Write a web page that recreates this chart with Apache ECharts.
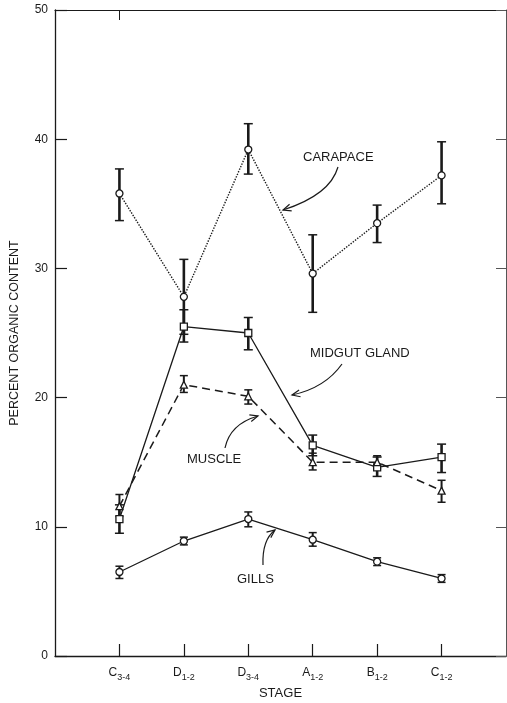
<!DOCTYPE html>
<html><head><meta charset="utf-8">
<script src="https://cdn.jsdelivr.net/npm/echarts@6/dist/echarts.min.js"></script>
<style>html,body{margin:0;padding:0;background:#fff}#c{width:507px;height:703px}</style>
</head><body><div id="c"></div>
<script>
const stageMain = ['C', 'D', 'D', 'A', 'B', 'C'];
const stageSub = ['3-4', '1-2', '3-4', '1-2', '1-2', '1-2'];
const yTicks = [0, 10, 20, 30, 40, 50];

const carapace = [35.8, 27.8, 39.2, 29.6, 33.5, 37.2];
const carapaceLow = [33.7, 24.9, 37.3, 26.6, 32.0, 35.0];
const carapaceHigh = [37.7, 30.7, 41.2, 32.6, 34.9, 39.8];

const midgut = [10.6, 25.5, 25.0, 16.3, 14.6, 15.4];
const midgutLow = [9.5, 24.3, 23.7, 15.5, 13.9, 14.2];
const midgutHigh = [11.7, 26.8, 26.2, 17.1, 15.4, 16.4];

const muscle = [11.6, 21.0, 20.1, 15.0, 15.0, 12.8];
const muscleLow = [10.8, 20.4, 19.5, 14.4, 14.5, 11.9];
const muscleHigh = [12.5, 21.7, 20.6, 15.7, 15.5, 13.6];

const gills = [6.5, 8.9, 10.6, 9.0, 7.3, 6.0];
const gillsLow = [6.0, 8.6, 10.0, 8.5, 7.0, 5.7];
const gillsHigh = [6.95, 9.2, 11.15, 9.55, 7.6, 6.3];

const FONT = 'Liberation Sans';
const INK = '#1a1a1a';

function pts(vals) { return vals.map((v, i) => [i + 1, v]); }
function bars(lo, hi) { return lo.map((v, i) => [i + 1, v, hi[i]]); }

function errSeries(lo, hi, w, capW) {
  return {
    type: 'custom', z: 3,
    data: bars(lo, hi),
    renderItem: function (params, api) {
      const a = api.coord([api.value(0), api.value(1)]);
      const b = api.coord([api.value(0), api.value(2)]);
      const st = { stroke: INK, lineWidth: w };
      return { type: 'group', children: [
        { type: 'line', shape: { x1: a[0], y1: a[1], x2: b[0], y2: b[1] }, style: st },
        { type: 'line', shape: { x1: a[0] - capW, y1: a[1], x2: a[0] + capW, y2: a[1] }, style: { stroke: INK, lineWidth: 1.5 } },
        { type: 'line', shape: { x1: b[0] - capW, y1: b[1], x2: b[0] + capW, y2: b[1] }, style: { stroke: INK, lineWidth: 1.5 } }
      ]};
    }
  };
}

function lineSeries(vals, type, sym, size, width) {
  return {
    type: 'line', z: 4, data: pts(vals), symbol: sym, symbolSize: size,
    lineStyle: { color: INK, width: width, type: type },
    itemStyle: { color: '#fff', borderColor: INK, borderWidth: 1.3 },
    animation: false
  };
}

function arrow(x0, y0, cx, cy, x1, y1) {
  const dx = x1 - cx, dy = y1 - cy, L = Math.hypot(dx, dy);
  const ux = dx / L, uy = dy / L, hl = 8, hw = 3.5;
  const bx = x1 - ux * hl, by = y1 - uy * hl;
  return [
    { type: 'bezierCurve', shape: { x1: x0, y1: y0, cpx1: cx, cpy1: cy, x2: x1, y2: y1 }, style: { stroke: INK, lineWidth: 1.2, fill: null } },
    { type: 'polyline', shape: { points: [[bx - uy * hw, by + ux * hw], [x1, y1], [bx + uy * hw, by - ux * hw]] }, style: { stroke: INK, lineWidth: 1.2, fill: null } }
  ];
}
function label(t, x, y) {
  return { type: 'text', style: { text: t, x: x, y: y, font: '13px ' + FONT, fill: INK, textVerticalAlign: 'middle' } };
}

const chart = echarts.init(document.getElementById('c'));
chart.setOption({
  backgroundColor: '#fff',
  animation: false,
  grid: { left: 55, top: 10, width: 451, bottom: 47, containLabel: false, outerBoundsMode: 'none' },
  xAxis: [{
    type: 'value', min: 0, max: 7, position: 'bottom',
    name: 'STAGE', nameLocation: 'middle', nameGap: 31,
    nameTextStyle: { fontFamily: FONT, fontSize: 13, color: INK },
    axisLine: { onZero: false, lineStyle: { color: INK, width: 1.3 } },
    axisTick: { inside: true, length: 12, customValues: [1, 2, 3, 4, 5, 6], lineStyle: { color: INK, width: 1.2 } },
    axisLabel: {
      customValues: [1, 2, 3, 4, 5, 6], margin: 8,
      formatter: function (v) { const i = Math.round(v) - 1; return '{m|' + stageMain[i] + '}{s|' + stageSub[i] + '}'; },
      rich: { m: { fontFamily: FONT, fontSize: 12, color: INK }, s: { fontFamily: FONT, fontSize: 9, color: INK, padding: [9, 0, 0, 0] } }
    },
    splitLine: { show: false }
  }, {
    type: 'value', min: 0, max: 7, position: 'top',
    axisLine: { show: true, onZero: false, lineStyle: { color: INK, width: 1.2 } },
    axisTick: { inside: true, length: 10, customValues: [1], lineStyle: { color: INK } },
    axisLabel: { show: false }, splitLine: { show: false }
  }],
  yAxis: [{
    type: 'value', min: 0, max: 50, interval: 10,
    name: 'PERCENT ORGANIC CONTENT', nameLocation: 'middle', nameGap: 34, nameRotate: 90,
    nameTextStyle: { fontFamily: FONT, fontSize: 12.5, color: INK },
    axisLine: { show: true, onZero: false, lineStyle: { color: INK, width: 1.3 } },
    axisTick: { show: true, inside: true, length: 12, lineStyle: { color: INK, width: 1.2 } },
    axisLabel: { fontFamily: FONT, fontSize: 12, color: INK, margin: 7,
      formatter: function (v) { return yTicks.indexOf(v) >= 0 ? String(v) : ''; } },
    splitLine: { show: false }
  }, {
    type: 'value', min: 0, max: 50, interval: 10, position: 'right',
    axisLine: { show: true, onZero: false, lineStyle: { color: '#555', width: 1 } },
    axisTick: { show: true, inside: true, length: 10, lineStyle: { color: '#555' } },
    axisLabel: { show: false }, splitLine: { show: false }
  }],
  series: [
    errSeries(carapaceLow, carapaceHigh, 2.6, 4.5),
    errSeries(midgutLow, midgutHigh, 2.6, 4.5),
    errSeries(muscleLow, muscleHigh, 2, 4),
    errSeries(gillsLow, gillsHigh, 2, 4),
    lineSeries(carapace, 'dotted', 'circle', 7, 1.4),
    lineSeries(midgut, 'solid', 'rect', 7, 1.3),
    lineSeries(muscle, [8, 5], 'triangle', 7, 1.5),
    lineSeries(gills, 'solid', 'circle', 7, 1.3)
  ],
  graphic: [].concat(
    [label('CARAPACE', 303, 157), label('MIDGUT GLAND', 310, 353), label('MUSCLE', 187, 459), label('GILLS', 237, 579)],
    arrow(338, 167, 330, 195, 283, 210),
    arrow(342, 364, 325, 388, 292, 395),
    arrow(225, 448, 230, 424, 258, 416),
    arrow(263, 565, 262, 540, 275, 530)
  )
});
</script></body></html>
